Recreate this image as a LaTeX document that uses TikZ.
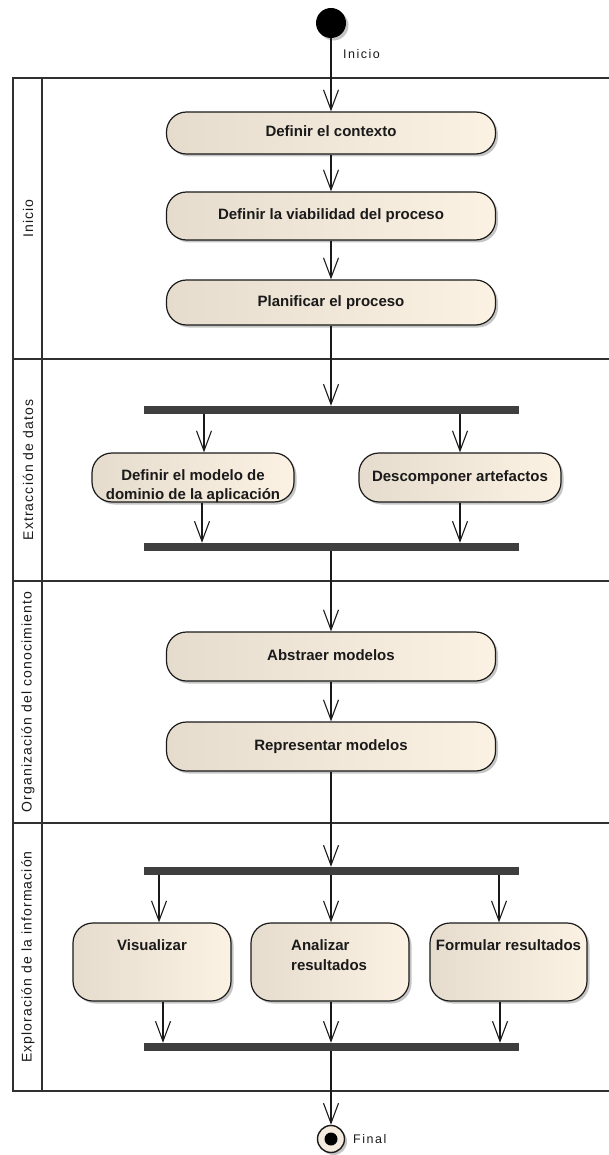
\documentclass[tikz,border=0pt]{standalone}
\usepackage{fontspec}
\setmainfont{Liberation Sans}
\newfontfamily\lanefont[LetterSpace=8]{Liberation Sans}
\newfontfamily\tagfont[LetterSpace=12]{Liberation Sans}
\usetikzlibrary{arrows.meta,shadows}
\definecolor{actL}{HTML}{E5DCCD}
\definecolor{actR}{HTML}{FCF2E3}
\definecolor{barC}{HTML}{3F3F3F}
\definecolor{laneC}{HTML}{303030}
\definecolor{inkC}{HTML}{1A1A1A}
\definecolor{finC}{HTML}{F3EBDD}

\begin{document}
\begin{tikzpicture}[x=1pt,y=-1pt,
  actshadow/.style={drop shadow={shadow xshift=2.5pt, shadow yshift=-2.5pt, fill=black!45, opacity=0.5}},
  act/.style={draw=inkC, line width=1.2pt, rounded corners=20pt,
    left color=actL, right color=actR, actshadow, inner sep=0pt,
    font=\fontsize{15}{19.5}\selectfont\bfseries, text=inkC,
    text height=11pt, text depth=3pt},
  acttxt/.style={font=\fontsize{15}{19.5}\selectfont\bfseries, text=inkC,
    inner sep=0pt, anchor=base},
  bar/.style={rectangle, fill=barC, draw=none, minimum width=375pt,
    minimum height=8pt, inner sep=0pt},
  flow/.style={draw=inkC, line width=1.1pt,
    -{Straight Barb[length=20pt,width=15pt,line width=1.1pt]}},
  lane/.style={draw=laneC, line width=1.6pt},
  lanelbl/.style={rotate=90, font=\lanefont\fontsize{14}{16}\selectfont,
    text=inkC, inner sep=0pt},
  tag/.style={font=\tagfont\fontsize{12.5}{15}\selectfont, text=inkC,
    inner sep=0pt, anchor=west},
]
\useasboundingbox (0,0) rectangle (608,1155);

% swimlanes
\draw[lane] (612,78) -- (13,78) -- (13,1091) -- (612,1091);
\draw[lane] (42,78) -- (42,1091);
\draw[lane] (13,359) -- (612,359);
\draw[lane] (13,581) -- (612,581);
\draw[lane] (13,823) -- (612,823);

\node[lanelbl] (laneA) at (28,218.5) {Inicio};
\node[lanelbl] (laneB) at (28,470) {Extracción de datos};
\node[lanelbl] (laneC) at (28,702) {Organización del conocimiento};
\node[lanelbl] (laneD) at (28,957) {Exploración de la información};

% start and final
\node[circle, fill=black, minimum size=30pt, inner sep=0pt, actshadow] (start) at (331,23) {};
\node[tag] (startlbl) at (343,54) {Inicio};

\node[circle, draw=inkC, line width=1.4pt, fill=finC, minimum size=27pt, inner sep=0pt, actshadow,
  path picture={\fill[black] (path picture bounding box.center) circle (6.5pt);}] (fin) at (331,1139) {};
\node[tag] (finlbl) at (353,1139) {Final};

% lane 1
\node[act, minimum width=329pt, minimum height=42pt] (ctx) at (331,133) {Definir el contexto};
\node[act, minimum width=329pt, minimum height=48pt] (viab) at (331,216) {Definir la viabilidad del proceso};
\node[act, minimum width=329pt, minimum height=45pt] (plan) at (331,302.5) {Planificar el proceso};

% lane 2
\node[bar] (fork1) at (331,410) {};
\node[act, minimum width=202pt, minimum height=49pt] (modelo) at (193,477.5) {};
\node[acttxt] (modeloA) at (193,480) {Definir el modelo de};
\node[acttxt] (modeloB) at (193,499.5) {dominio de la aplicación};
\node[act, minimum width=202pt, minimum height=49pt] (descomp) at (460,477.5) {Descomponer artefactos};
\node[bar] (join1) at (331,547) {};

% lane 3
\node[act, minimum width=329pt, minimum height=49pt] (abs) at (331,656.5) {Abstraer modelos};
\node[act, minimum width=329pt, minimum height=49pt] (rep) at (331,746.5) {Representar modelos};

% lane 4
\node[bar] (fork2) at (331,871) {};
\node[act, minimum width=158pt, minimum height=78pt] (vis) at (152,962) {};
\node[acttxt] (visT) at (152,950) {Visualizar};
\node[act, minimum width=158pt, minimum height=78pt] (ana) at (330,962) {};
\node[acttxt, anchor=base west] (anaA) at (291,950) {Analizar};
\node[acttxt, anchor=base west] (anaB) at (291,970) {resultados};
\node[act, minimum width=157pt, minimum height=78pt] (form) at (508.5,962) {};
\node[acttxt] (formT) at (508.5,950) {Formular resultados};
\node[bar] (join2) at (331,1047) {};

% branch columns
\coordinate (cA) at (204,0);
\coordinate (cB) at (202,0);
\coordinate (cC) at (460,0);
\coordinate (cD) at (159,0);
\coordinate (cE) at (163,0);
\coordinate (cF) at (499,0);
\coordinate (cG) at (500,0);
\coordinate (cM) at (331,0);

% flows
\draw[flow] (start.south) -- (ctx.north);
\draw[flow] (ctx.south) -- (viab.north);
\draw[flow] (viab.south) -- (plan.north);
\draw[flow] (plan.south) -- (fork1.north);
\draw[flow] (fork1.south -| cA) -- (modelo.north -| cA);
\draw[flow] (fork1.south -| cC) -- (descomp.north -| cC);
\draw[flow] (modelo.south -| cB) -- (join1.north -| cB);
\draw[flow] (descomp.south -| cC) -- (join1.north -| cC);
\draw[flow] (join1.south) -- (abs.north);
\draw[flow] (abs.south) -- (rep.north);
\draw[flow] (rep.south) -- (fork2.north);
\draw[flow] (fork2.south -| cD) -- (vis.north -| cD);
\draw[flow] (fork2.south -| cM) -- (ana.north -| cM);
\draw[flow] (fork2.south -| cF) -- (form.north -| cF);
\draw[flow] (vis.south -| cE) -- (join2.north -| cE);
\draw[flow] (ana.south -| cM) -- (join2.north -| cM);
\draw[flow] (form.south -| cG) -- (join2.north -| cG);
\draw[flow] (join2.south) -- (fin.north);
\end{tikzpicture}
\end{document}
